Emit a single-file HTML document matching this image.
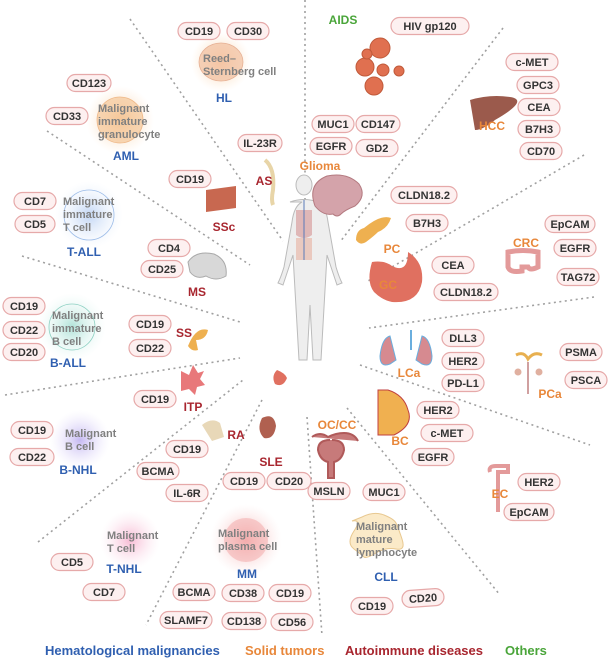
<!DOCTYPE html>
<html><head><meta charset="utf-8"><style>
body{margin:0;background:#fff}
svg{display:block;font-family:"Liberation Sans",sans-serif;font-weight:bold}
.p rect{fill:#fdf0f0;stroke:#e6a9a9;stroke-width:1.2}
.p text{fill:#333;font-size:11px;text-anchor:middle}
.c{fill:#808080;font-size:11px}
.l{stroke:#a0a0a0;stroke-width:1.6;stroke-dasharray:2 3.5;fill:none}
.hb{fill:#2f5fb0;font-size:12px;text-anchor:middle}
.st{fill:#e8873a;font-size:12px;text-anchor:middle}
.ad{fill:#a8262f;font-size:12px;text-anchor:middle}
</style></head><body>
<svg width="608" height="660" viewBox="0 0 608 660">
<defs>
<radialGradient id="go"><stop offset="0" stop-color="#f7b070" stop-opacity=".75"/><stop offset="1" stop-color="#fde0c0" stop-opacity="0"/></radialGradient>
<radialGradient id="gb"><stop offset="0" stop-color="#a8c4f0" stop-opacity=".7"/><stop offset="1" stop-color="#e0ebfb" stop-opacity="0"/></radialGradient>
<radialGradient id="gt"><stop offset="0" stop-color="#8fd6c8" stop-opacity=".7"/><stop offset="1" stop-color="#d8f3ee" stop-opacity="0"/></radialGradient>
<radialGradient id="gp"><stop offset="0" stop-color="#b6a6ee" stop-opacity=".8"/><stop offset="1" stop-color="#e6e0fb" stop-opacity="0"/></radialGradient>
<radialGradient id="gk"><stop offset="0" stop-color="#f5a8c8" stop-opacity=".8"/><stop offset="1" stop-color="#fbe0ec" stop-opacity="0"/></radialGradient>
<radialGradient id="gr"><stop offset="0" stop-color="#f09090" stop-opacity=".8"/><stop offset="1" stop-color="#fbdcdc" stop-opacity="0"/></radialGradient>
</defs>
<path class="l" d="M130 19L283 241M47 131L250 265M22 256L240 322M5 395L240 358M38 542L243 380M262 400L146 625M305 0L305 235M503 28L340 242M584 155L368 281M594 297L369 328M360 365L590 445M347 408L500 595M307 417L322 636"/>

<circle cx="221" cy="62" r="30" fill="url(#go)"/><ellipse cx="221" cy="62" rx="22" ry="19" fill="#f4c6a8" stroke="#e0a080" stroke-width=".8" opacity=".8"/>
<circle cx="120" cy="120" r="34" fill="url(#go)"/><circle cx="120" cy="120" r="23" fill="#f5c89a" stroke="#e8a060" stroke-width=".8" opacity=".7"/>
<circle cx="89" cy="215" r="34" fill="url(#gb)"/><circle cx="89" cy="215" r="25" fill="none" stroke="#9cbce8" stroke-width=".8"/>
<circle cx="72" cy="327" r="34" fill="url(#gt)"/><circle cx="72" cy="327" r="23" fill="none" stroke="#8dd0c2" stroke-width=".8"/>
<circle cx="80" cy="440" r="30" fill="url(#gp)"/>
<circle cx="130" cy="540" r="30" fill="url(#gk)"/>
<circle cx="246" cy="540" r="36" fill="url(#gr)"/><circle cx="246" cy="540" r="22" fill="#f4b0b0" opacity=".6"/>
<path d="M362 517q12-6 22-2t12 8 6 16-6 10-20 4-12 4-10-8 0-18-2-10z" fill="#fbeac8" stroke="#e8c890" stroke-width="1"/>

<text class="c" x="203" y="62">Reed–</text><text class="c" x="203" y="75">Sternberg cell</text>
<text class="hb" x="224" y="102">HL</text>
<text class="c" x="98" y="112">Malignant</text><text class="c" x="98" y="125">immature</text><text class="c" x="98" y="138">granulocyte</text>
<text class="hb" x="126" y="160">AML</text>
<text class="c" x="63" y="205">Malignant</text><text class="c" x="63" y="218">immature</text><text class="c" x="63" y="231">T cell</text>
<text class="hb" x="84" y="256">T-ALL</text>
<text class="c" x="52" y="319">Malignant</text><text class="c" x="52" y="332">immature</text><text class="c" x="52" y="345">B cell</text>
<text class="hb" x="68" y="367">B-ALL</text>
<text class="c" x="65" y="437">Malignant</text><text class="c" x="65" y="450">B cell</text>
<text class="hb" x="78" y="474">B-NHL</text>
<text class="c" x="107" y="539">Malignant</text><text class="c" x="107" y="552">T cell</text>
<text class="hb" x="124" y="573">T-NHL</text>
<text class="c" x="218" y="537">Malignant</text><text class="c" x="218" y="550">plasma cell</text>
<text class="hb" x="247" y="578">MM</text>
<text class="c" x="356" y="530">Malignant</text><text class="c" x="356" y="543">mature</text><text class="c" x="356" y="556">lymphocyte</text>
<text class="hb" x="386" y="581">CLL</text>

<g fill="#eeeeee" stroke="#bbbbbb" stroke-width="1">
<ellipse cx="304" cy="185" rx="8" ry="10"/>
<path d="M290 202q14-5 28 0 8 4 10 20l8 45q3 10 6 16l-5 2-10-30-2 35-4 70h-8l-3-55-3 55h-8l-4-70-2-35-10 30-5-2q3-6 6-16l8-45q2-16 10-20z"/>
</g>
<path d="M296 210h16v25q-8 6-16 0z" fill="#d9a0a0" opacity=".7"/>
<path d="M296 238h16v22h-16z" fill="#e8b0a0" opacity=".6"/>
<line x1="304" y1="200" x2="304" y2="260" stroke="#5a7ab8" stroke-width="1"/>

<g fill="#e07050" stroke="#c05a3a" stroke-width="1">
<circle cx="380" cy="48" r="10"/><circle cx="365" cy="67" r="9"/><circle cx="383" cy="70" r="6"/><circle cx="399" cy="71" r="5"/><circle cx="374" cy="86" r="9"/><circle cx="367" cy="54" r="5"/>
</g>
<path d="M470 100q20-6 40-3t-15 23q-12 10-20 10z" fill="#9b5a4c"/>
<path d="M315 206q-8-22 12-30 20-4 32 8 8 12-4 22-10 4-14 8-4 4-8 0-10 2-18-8z" fill="#d4a3aa" stroke="#b47a80"/>
<path d="M364 228q-8 2-8 12 4 6 10 2 8-6 12-10 10-4 13-14-10-4-27 10z" fill="#eeb050"/>
<path d="M372 262q-6 20 2 30 8 8 18 10 26 2 30-20 2-20-14-30 0 22-16 14-8-6-20-4z" fill="#e07060"/>
<path d="M508 252q15-3 30 0v15q-8 4-10 0h-6v4q-12 2-14-4z" fill="none" stroke="#e39a9a" stroke-width="5"/>
<path d="M390 336q-8 2-10 20 0 12 10 8l6-4zM422 336q8 2 10 20 0 12-10 8l-6-4z" fill="#d68a90" stroke="#6aaede"/>
<line x1="411" y1="330" x2="411" y2="350" stroke="#6aaede" stroke-width="2"/>
<path d="M516 355q8-4 12 4 6-8 14-4" fill="none" stroke="#e8b050" stroke-width="3"/>
<circle cx="518" cy="372" r="3.5" fill="#e0b0a0"/><circle cx="539" cy="372" r="3.5" fill="#e0b0a0"/><line x1="528" y1="362" x2="528" y2="394" stroke="#d0a0a0" stroke-width="2"/>
<path d="M378 390q0 30 0 45h16q20-10 14-25-4-15-20-20z" fill="#f0b050" stroke="#c04040"/>
<path d="M312 437q8-6 16 0 8-4 16-4 10 0 14 8M332 440q12 0 12 10-2 10-10 12v16h-6v-16q-8-2-10-12 0-10 12-10" fill="#c77a7a" stroke="#b05a5a" stroke-width="2"/>
<path d="M490 472q-2-6 6-6h12v6h-10v40" fill="none" stroke="#e39a9a" stroke-width="4"/>
<path d="M277 370q8 3 10 8-4 10-12 6-4-8 2-14z" fill="#e07060"/><path d="M188 346q8-20 20-16-2 10-12 10l2 10q-6 2-10-4z" fill="#eeb050"/>
<path d="M188 262q8-12 26-8 14 6 12 22-10 6-20 0-10 4-16-4z" fill="#d8d8d8" stroke="#aaa"/>
<path d="M206 190l30-4v22l-30 4z" fill="#c86850"/>
<path d="M265 160q10 8 8 30-2 10 0 15" fill="none" stroke="#e8d5a8" stroke-width="4"/>
<path d="M181 371l8 4 4-10 5 8 6-2-4 8 5 6-8 2-2 8-6-6-8 2z" fill="#e8787a"/>
<path d="M202 425q10-8 18-2l4 14-12 4z" fill="#e8d8b8"/>
<path d="M262 418q12-6 14 8-2 14-12 12-8-8-2-20z" fill="#b06050"/>

<text x="343" y="24" fill="#4aa53a" font-size="12" text-anchor="middle">AIDS</text>
<text class="st" x="492" y="130">HCC</text>
<text class="st" x="320" y="170">Glioma</text>
<text class="st" x="392" y="253">PC</text>
<text class="st" x="388" y="289">GC</text>
<text class="st" x="526" y="247">CRC</text>
<text class="st" x="409" y="377">LCa</text>
<text class="st" x="550" y="398">PCa</text>
<text class="st" x="400" y="445">BC</text>
<text class="st" x="337" y="429">OC/CC</text>
<text class="st" x="500" y="498">EC</text>
<text class="ad" x="264" y="185">AS</text>
<text class="ad" x="224" y="231">SSc</text>
<text class="ad" x="197" y="296">MS</text>
<text class="ad" x="184" y="337">SS</text>
<text class="ad" x="193" y="411">ITP</text>
<text class="ad" x="236" y="439">RA</text>
<text class="ad" x="271" y="466">SLE</text>

<g class="p">
<g transform="translate(199,31)"><rect x="-21" y="-8.5" width="42" height="17" rx="8.5"/><text y="4">CD19</text></g>
<g transform="translate(248,31)"><rect x="-21" y="-8.5" width="42" height="17" rx="8.5"/><text y="4">CD30</text></g>
<g transform="translate(89,83)"><rect x="-22" y="-8.5" width="44" height="17" rx="8.5"/><text y="4">CD123</text></g>
<g transform="translate(67,116)"><rect x="-21" y="-8.5" width="42" height="17" rx="8.5"/><text y="4">CD33</text></g>
<g transform="translate(260,143)"><rect x="-22" y="-8.5" width="44" height="17" rx="8.5"/><text y="4">IL-23R</text></g>
<g transform="translate(190,179)"><rect x="-21" y="-8.5" width="42" height="17" rx="8.5"/><text y="4">CD19</text></g>
<g transform="translate(35,201)"><rect x="-21" y="-8.5" width="42" height="17" rx="8.5"/><text y="4">CD7</text></g>
<g transform="translate(35,224)"><rect x="-20" y="-8.5" width="40" height="17" rx="8.5"/><text y="4">CD5</text></g>
<g transform="translate(169,248)"><rect x="-21" y="-8.5" width="42" height="17" rx="8.5"/><text y="4">CD4</text></g>
<g transform="translate(162,269)"><rect x="-21" y="-8.5" width="42" height="17" rx="8.5"/><text y="4">CD25</text></g>
<g transform="translate(24,306)"><rect x="-21" y="-8.5" width="42" height="17" rx="8.5"/><text y="4">CD19</text></g>
<g transform="translate(24,330)"><rect x="-21" y="-8.5" width="42" height="17" rx="8.5"/><text y="4">CD22</text></g>
<g transform="translate(24,352)"><rect x="-21" y="-8.5" width="42" height="17" rx="8.5"/><text y="4">CD20</text></g>
<g transform="translate(150,324)"><rect x="-21" y="-8.5" width="42" height="17" rx="8.5"/><text y="4">CD19</text></g>
<g transform="translate(150,348)"><rect x="-21" y="-8.5" width="42" height="17" rx="8.5"/><text y="4">CD22</text></g>
<g transform="translate(155,399)"><rect x="-21" y="-8.5" width="42" height="17" rx="8.5"/><text y="4">CD19</text></g>
<g transform="translate(32,430)"><rect x="-21" y="-8.5" width="42" height="17" rx="8.5"/><text y="4">CD19</text></g>
<g transform="translate(32,457)"><rect x="-22" y="-8.5" width="44" height="17" rx="8.5"/><text y="4">CD22</text></g>
<g transform="translate(187,449)"><rect x="-21" y="-8.5" width="42" height="17" rx="8.5"/><text y="4">CD19</text></g>
<g transform="translate(158,471)"><rect x="-21" y="-8.5" width="42" height="17" rx="8.5"/><text y="4">BCMA</text></g>
<g transform="translate(187,493)"><rect x="-21" y="-8.5" width="42" height="17" rx="8.5"/><text y="4">IL-6R</text></g>
<g transform="translate(244,481)"><rect x="-21" y="-8.5" width="42" height="17" rx="8.5"/><text y="4">CD19</text></g>
<g transform="translate(289,481)"><rect x="-22" y="-8.5" width="44" height="17" rx="8.5"/><text y="4">CD20</text></g>
<g transform="translate(72,562)"><rect x="-21" y="-8.5" width="42" height="17" rx="8.5"/><text y="4">CD5</text></g>
<g transform="translate(104,592)"><rect x="-21" y="-8.5" width="42" height="17" rx="8.5"/><text y="4">CD7</text></g>
<g transform="translate(194,592)"><rect x="-21" y="-8.5" width="42" height="17" rx="8.5"/><text y="4">BCMA</text></g>
<g transform="translate(243,593)"><rect x="-21" y="-8.5" width="42" height="17" rx="8.5"/><text y="4">CD38</text></g>
<g transform="translate(290,593)"><rect x="-21" y="-8.5" width="42" height="17" rx="8.5"/><text y="4">CD19</text></g>
<g transform="translate(186,620)"><rect x="-26" y="-8.5" width="52" height="17" rx="8.5"/><text y="4">SLAMF7</text></g>
<g transform="translate(244,621)"><rect x="-22" y="-8.5" width="44" height="17" rx="8.5"/><text y="4">CD138</text></g>
<g transform="translate(292,622)"><rect x="-21" y="-8.5" width="42" height="17" rx="8.5"/><text y="4">CD56</text></g>
<g transform="translate(430,26)"><rect x="-39" y="-8.5" width="78" height="17" rx="8.5"/><text y="4">HIV gp120</text></g>
<g transform="translate(532,62)"><rect x="-26" y="-8.5" width="52" height="17" rx="8.5"/><text y="4">c-MET</text></g>
<g transform="translate(538,85)"><rect x="-21" y="-8.5" width="42" height="17" rx="8.5"/><text y="4">GPC3</text></g>
<g transform="translate(539,107)"><rect x="-21" y="-8.5" width="42" height="17" rx="8.5"/><text y="4">CEA</text></g>
<g transform="translate(539,129)"><rect x="-21" y="-8.5" width="42" height="17" rx="8.5"/><text y="4">B7H3</text></g>
<g transform="translate(541,151)"><rect x="-21" y="-8.5" width="42" height="17" rx="8.5"/><text y="4">CD70</text></g>
<g transform="translate(333,124)"><rect x="-21" y="-8.5" width="42" height="17" rx="8.5"/><text y="4">MUC1</text></g>
<g transform="translate(378,124)"><rect x="-22" y="-8.5" width="44" height="17" rx="8.5"/><text y="4">CD147</text></g>
<g transform="translate(331,146)"><rect x="-21" y="-8.5" width="42" height="17" rx="8.5"/><text y="4">EGFR</text></g>
<g transform="translate(377,148)"><rect x="-21" y="-8.5" width="42" height="17" rx="8.5"/><text y="4">GD2</text></g>
<g transform="translate(424,195)"><rect x="-33" y="-8.5" width="66" height="17" rx="8.5"/><text y="4">CLDN18.2</text></g>
<g transform="translate(427,223)"><rect x="-21" y="-8.5" width="42" height="17" rx="8.5"/><text y="4">B7H3</text></g>
<g transform="translate(570,224)"><rect x="-25" y="-8.5" width="50" height="17" rx="8.5"/><text y="4">EpCAM</text></g>
<g transform="translate(575,248)"><rect x="-21" y="-8.5" width="42" height="17" rx="8.5"/><text y="4">EGFR</text></g>
<g transform="translate(578,277)"><rect x="-21" y="-8.5" width="42" height="17" rx="8.5"/><text y="4">TAG72</text></g>
<g transform="translate(453,265)"><rect x="-21" y="-8.5" width="42" height="17" rx="8.5"/><text y="4">CEA</text></g>
<g transform="translate(466,292)"><rect x="-32" y="-8.5" width="64" height="17" rx="8.5"/><text y="4">CLDN18.2</text></g>
<g transform="translate(463,338)"><rect x="-21" y="-8.5" width="42" height="17" rx="8.5"/><text y="4">DLL3</text></g>
<g transform="translate(463,361)"><rect x="-21" y="-8.5" width="42" height="17" rx="8.5"/><text y="4">HER2</text></g>
<g transform="translate(463,383)"><rect x="-21" y="-8.5" width="42" height="17" rx="8.5"/><text y="4">PD-L1</text></g>
<g transform="translate(581,352)"><rect x="-21" y="-8.5" width="42" height="17" rx="8.5"/><text y="4">PSMA</text></g>
<g transform="translate(586,380)"><rect x="-21" y="-8.5" width="42" height="17" rx="8.5"/><text y="4">PSCA</text></g>
<g transform="translate(438,410)"><rect x="-21" y="-8.5" width="42" height="17" rx="8.5"/><text y="4">HER2</text></g>
<g transform="translate(447,433)"><rect x="-26" y="-8.5" width="52" height="17" rx="8.5"/><text y="4">c-MET</text></g>
<g transform="translate(433,457)"><rect x="-21" y="-8.5" width="42" height="17" rx="8.5"/><text y="4">EGFR</text></g>
<g transform="translate(539,482)"><rect x="-21" y="-8.5" width="42" height="17" rx="8.5"/><text y="4">HER2</text></g>
<g transform="translate(529,512)"><rect x="-25" y="-8.5" width="50" height="17" rx="8.5"/><text y="4">EpCAM</text></g>
<g transform="translate(329,491)"><rect x="-21" y="-8.5" width="42" height="17" rx="8.5"/><text y="4">MSLN</text></g>
<g transform="translate(384,492)"><rect x="-21" y="-8.5" width="42" height="17" rx="8.5"/><text y="4">MUC1</text></g>
<g transform="translate(372,606)"><rect x="-21" y="-8.5" width="42" height="17" rx="8.5"/><text y="4">CD19</text></g>
<g transform="translate(423,598) rotate(-4)"><rect x="-21" y="-8.5" width="42" height="17" rx="8.5"/><text y="4">CD20</text></g>
</g>

<g font-size="13">
<text x="45" y="655" fill="#2f5fb0">Hematological malignancies</text>
<text x="245" y="655" fill="#e8873a">Solid tumors</text>
<text x="345" y="655" fill="#a8262f">Autoimmune diseases</text>
<text x="505" y="655" fill="#4aa53a">Others</text>
</g>
</svg>
</body></html>
